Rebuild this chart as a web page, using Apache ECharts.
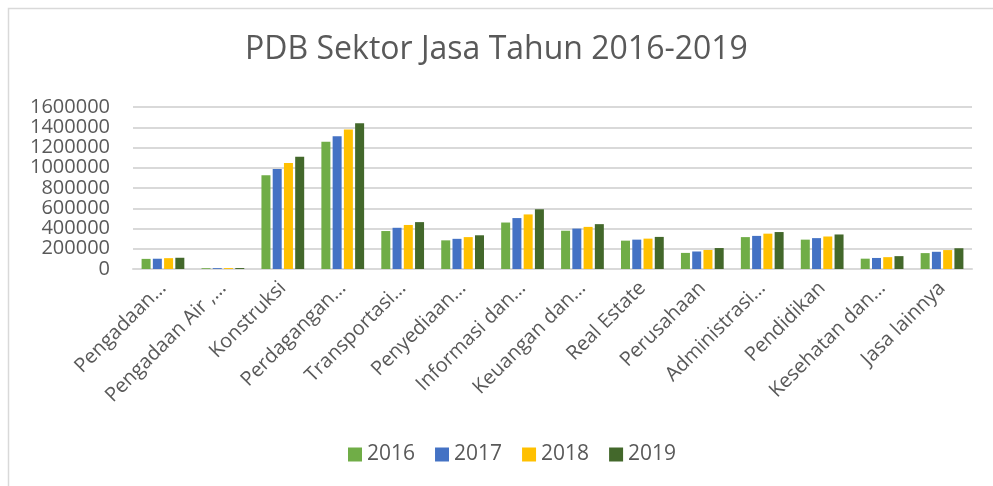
<!DOCTYPE html>
<html>
<head>
<meta charset="utf-8">
<script src="https://cdn.jsdelivr.net/npm/echarts@6/dist/echarts.min.js"></script>
<style>
  html, body { margin: 0; padding: 0; background: #fff; }
  #chart { width: 993px; height: 486px; }
</style>
</head>
<body>
<div id="chart"></div>
<script>
const categories = [
  "Pengadaan…", "Pengadaan Air ,…", "Konstruksi", "Perdagangan…", "Transportasi…",
  "Penyediaan…", "Informasi dan…", "Keuangan dan…", "Real Estate", "Perusahaan",
  "Administrasi…", "Pendidikan", "Kesehatan dan…", "Jasa lainnya"
];
const years = ["2016", "2017", "2018", "2019"];
const values2016 = [100000, 7900, 925000, 1256000, 375000, 283000, 459000, 378000, 280000, 159000, 315000, 290000, 102000, 157000];
const values2017 = [101500, 8400, 988000, 1312000, 407000, 298000, 503000, 399000, 290000, 173000, 327000, 305000, 109000, 170000];
const values2018 = [107000, 8900, 1048000, 1377000, 435000, 315000, 539000, 416000, 300000, 188000, 349000, 321000, 117000, 187000];
const values2019 = [111000, 9300, 1108000, 1440000, 463000, 333000, 590000, 443000, 317000, 207000, 365000, 341000, 127000, 205000];
const colors = ["#70AD47", "#4472C4", "#FFC000", "#43682B"];
const yTicks = [0, 200000, 400000, 600000, 800000, 1000000, 1200000, 1400000, 1600000];

const chart = echarts.init(document.getElementById("chart"));
const textColor = "#595959";
const font = "'Open Sans', sans-serif";

const allValues = [values2016, values2017, values2018, values2019];

const option = {
  animation: false,
  color: colors,
  textStyle: { fontFamily: font },
  title: {
    text: "PDB Sektor Jasa Tahun 2016-2019",
    left: "center",
    top: 29,
    textStyle: { fontSize: 32, fontWeight: "normal", color: textColor, fontFamily: font }
  },
  graphic: [{
    type: "rect",
    shape: { x: 8.5, y: 8.5, width: 1000, height: 500 },
    style: { fill: "none", stroke: "#d9d9d9", lineWidth: 1.5 },
    silent: true
  }],
  legend: {
    bottom: 16,
    left: 343,
    itemWidth: 14,
    itemHeight: 14,
    itemGap: 20,
    icon: "rect",
    textStyle: { fontSize: 21, color: textColor, fontFamily: font },
    data: years
  },
  grid: { left: 133, right: 21, top: 107, bottom: 217 },
  xAxis: {
    type: "category",
    data: categories,
    axisLine: { lineStyle: { color: "#d9d9d9", width: 2 } },
    axisTick: { show: false },
    axisLabel: {
      rotate: 45,
      interval: 0,
      fontSize: 20,
      color: textColor,
      margin: 16,
      fontFamily: font
    }
  },
  yAxis: {
    type: "value",
    min: 0,
    max: yTicks[yTicks.length - 1],
    interval: yTicks[1] - yTicks[0],
    axisLine: { show: false },
    axisTick: { show: false },
    axisLabel: {
      fontSize: 20,
      color: textColor,
      margin: 23,
      fontFamily: font,
      formatter: (v) => String(v)
    },
    splitLine: { lineStyle: { color: "#d9d9d9", width: 2 } }
  },
  series: years.map((y, i) => ({
    name: y,
    type: "bar",
    data: allValues[i],
    barWidth: 9,
    barGap: "25%",
    itemStyle: { color: colors[i] }
  }))
};

chart.setOption(option);
</script>
</body>
</html>
